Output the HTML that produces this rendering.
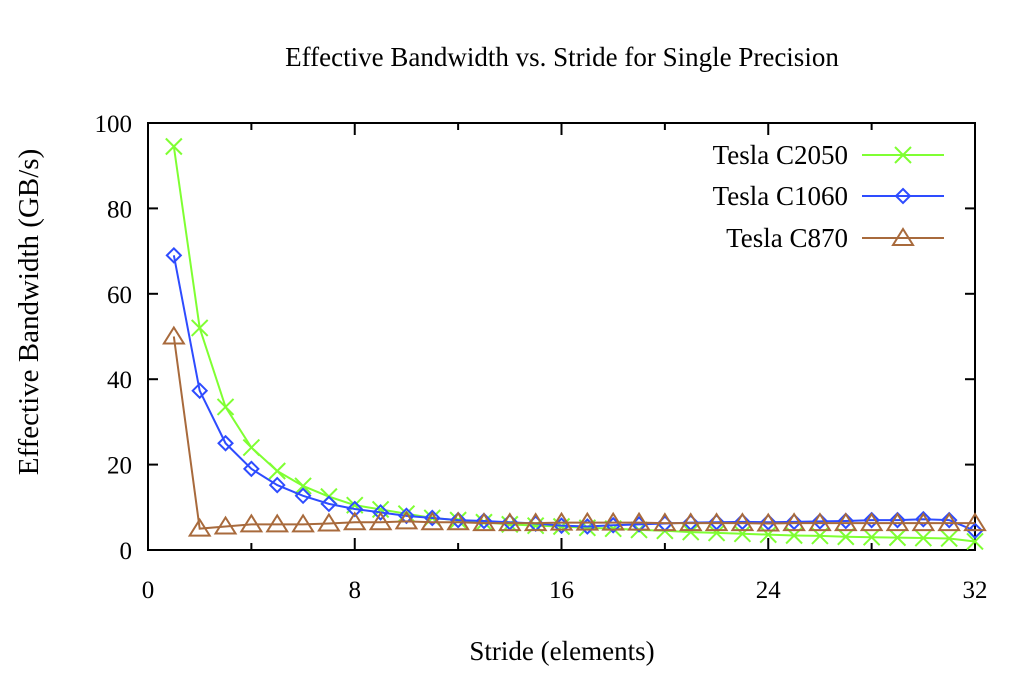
<!DOCTYPE html>
<html><head><meta charset="utf-8"><style>
body{margin:0;background:#fff}
svg{font-family:"Liberation Serif",serif;}
</style></head><body>
<svg id="chart" width="1024" height="683" viewBox="0 0 1024 683" xmlns="http://www.w3.org/2000/svg"></svg>
<script>
const strides=[1,2,3,4,5,6,7,8,9,10,11,12,13,14,15,16,17,18,19,20,21,22,23,24,25,26,27,28,29,30,31,32];
const c2050=[94.5,52,33.5,24,18.5,15,12.5,10.5,9.5,8.5,7.5,7,6.5,6,5.7,5.5,5.2,5,4.7,4.5,4.2,4,3.8,3.6,3.4,3.3,3.1,3,2.9,2.8,2.7,2];
const c1060=[69,37.3,25,19,15.2,12.7,10.8,9.6,8.8,8,7.5,7,6.8,6.5,6.2,5.7,5.5,5.8,6,6.2,6.4,6.5,6.6,6.5,6.6,6.7,6.8,7,7,7.2,7,4.5];
const c870=[50,5,5.5,6,6,6,6.2,6.5,6.5,6.7,6.5,6.5,6.3,6.3,6.3,6.4,6.4,6.4,6.4,6.3,6.3,6.3,6.3,6.2,6.3,6.3,6.3,6.3,6.3,6.3,6.3,6.3];
const xTicks=[0,8,16,24,32];
const xMinor=[4,12,20,28];
const yTicks=[0,20,40,60,80,100];
const svg=document.getElementById('chart');
const NS='http://www.w3.org/2000/svg';
const L=148,R=975,T=123,B=550;
const xs=v=>L+(v/32)*(R-L);
const ys=v=>B-(v/100)*(B-T);
function mk(tag,attrs,parent){const e=document.createElementNS(NS,tag);for(const k in attrs)e.setAttribute(k,attrs[k]);(parent||svg).appendChild(e);return e;}
function txt(s,x,y,anchor,size,rot){const t=mk('text',{x:x,y:y,'text-anchor':anchor,'font-size':size,fill:'#000'});if(rot)t.setAttribute('transform',`rotate(-90 ${x} ${y})`);t.textContent=s;return t;}
let t=txt('Effective Bandwidth vs. Stride for Single Precision',562,66,'middle',27);

t=txt('Stride (elements)',562,660,'middle',27);

t=txt('Effective Bandwidth (GB/s)',38,312,'middle',29,true);

yTicks.forEach(v=>{const y=ys(v);
 const g=mk('g',{});
 
 mk('line',{x1:L,x2:L+10,y1:y,y2:y,stroke:'#000','stroke-width':2},g);
 mk('line',{x1:R,x2:R-10,y1:y,y2:y,stroke:'#000','stroke-width':2},g);
 const tt=txt(String(v),132,y+9,'end',25);g.appendChild(tt);});
xTicks.forEach(v=>{const x=xs(v);
 const g=mk('g',{});
 
 mk('line',{x1:x,x2:x,y1:B,y2:B-12,stroke:'#000','stroke-width':2},g);
 mk('line',{x1:x,x2:x,y1:T,y2:T+12,stroke:'#000','stroke-width':2},g);
 const tt=txt(String(v),x,598,'middle',25);g.appendChild(tt);});
xMinor.forEach(v=>{const x=xs(v);
 const g=mk('g',{});
 
 mk('line',{x1:x,x2:x,y1:B,y2:B-7,stroke:'#000','stroke-width':2},g);
 mk('line',{x1:x,x2:x,y1:T,y2:T+7,stroke:'#000','stroke-width':2},g);});
const frame=mk('rect',{x:L,y:T,width:R-L,height:B-T,fill:'none',stroke:'#000','stroke-width':2});

function marker(type,x,y,color,g){
 if(type==='x'){mk('path',{d:`M${x-8} ${y-8}L${x+8} ${y+8}M${x-8} ${y+8}L${x+8} ${y-8}`,stroke:color,'stroke-width':2,fill:'none'},g);}
 else if(type==='d'){mk('path',{d:`M${x} ${y-7}L${x+7} ${y}L${x} ${y+7}L${x-7} ${y}Z`,stroke:color,'stroke-width':2,fill:'none'},g);}
 else {mk('path',{d:`M${x} ${y-9}L${x+10} ${y+7}L${x-10} ${y+7}Z`,stroke:color,'stroke-width':2,fill:'none'},g);}
}
const series=[['Tesla C2050',c2050,'#7fff32','x',155,'series-c2050'],['Tesla C1060',c1060,'#2e4cff','d',196,'series-c1060'],['Tesla C870',c870,'#a86a3c','t',238,'series-c870']];
series.forEach(([name,vals,color,m,ly,dn])=>{
 const g=mk('g',{});
 
 mk('polyline',{points:vals.map((v,i)=>xs(strides[i])+','+ys(v)).join(' '),fill:'none',stroke:color,'stroke-width':2},g);
 vals.forEach((v,i)=>marker(m,xs(strides[i]),ys(v),color,g));
 const lg=mk('g',{});
 
 const tt=txt(name,848,ly+9,'end',27);lg.appendChild(tt);
 mk('line',{x1:862,x2:944,y1:ly,y2:ly,stroke:color,'stroke-width':2},lg);
 marker(m,903,ly,color,lg);
});
</script>
</body></html>
